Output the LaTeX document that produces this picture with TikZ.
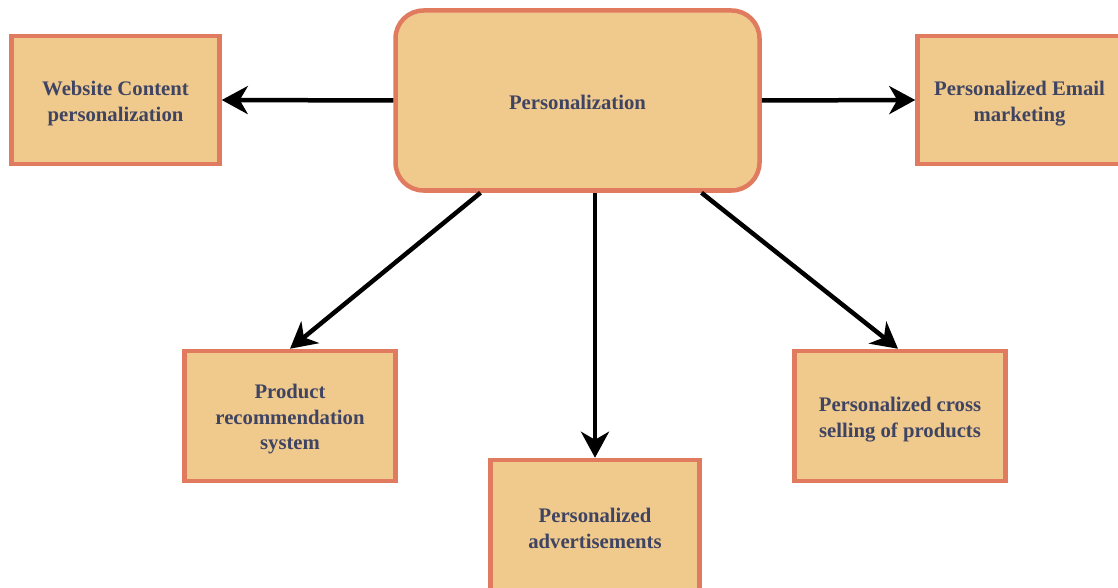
\documentclass[tikz,border=0pt]{standalone}
\usepackage{fontspec}
\setmainfont{Liberation Serif}
\usetikzlibrary{arrows.meta}
\definecolor{boxfill}{HTML}{F0CA8C}
\definecolor{boxline}{HTML}{E07B5F}
\definecolor{txt}{HTML}{3F4462}
\tikzset{
  box/.style={draw=boxline, fill=boxfill, line width=4.5pt, minimum width=208pt, minimum height=128pt, inner sep=0pt},
  mainbox/.style={box, rounded corners=28pt, minimum width=364pt, minimum height=180pt},
  lbl/.style={align=center, text=txt, inner sep=0pt,
    font=\fontsize{20.7pt}{25.5pt}\selectfont\bfseries},
  arr/.style={line width=4.5pt, draw=black, -{Stealth[length=26pt, width=28pt, inset=8pt]}}
}
\begin{document}
\begin{tikzpicture}[x=1pt,y=-1pt]
\useasboundingbox (0,0) rectangle (1118,588);
\begin{scope}
\clip (0,0) rectangle (1118,588);
\node[mainbox] (P) at (577.5,100.5) {};
\node[box] (web) at (115.5,100) {};
\node[box] (mail) at (1021.5,100) {};
\node[box, minimum width=211pt, minimum height=130pt] (prod) at (290,416) {};
\node[box, minimum width=209pt, minimum height=130pt] (ads) at (595,525) {};
\node[box, minimum width=211pt, minimum height=130pt] (cross) at (900,416) {};
\node[lbl] (tP) at ([yshift=-2pt]P.center) {Personalization};
\node[lbl] (tweb) at ([yshift=-3.5pt]web.center) {Website Content\\personalization};
\node[lbl] (tmail) at ([yshift=-3.5pt,xshift=-2pt]mail.center) {Personalized Email\\marketing};
\node[lbl] (tprod) at ([yshift=-3.5pt]prod.center) {Product\\recommendation\\system};
\node[lbl] (tads) at ([yshift=-3.5pt]ads.center) {Personalized\\advertisements};
\node[lbl] (tcross) at ([yshift=-3.5pt]cross.center) {Personalized cross\\selling of products};
\draw[arr] (P.west) -- (web.east);
\draw[arr] (P.east) -- (mail.west);
\draw[arr] ([xshift=-97pt]P.south) -- ([xshift=0pt]prod.north);
\draw[arr] (P.south -| ads.north) -- (ads.north);
\draw[arr] ([xshift=124pt]P.south) -- ([xshift=-2pt]cross.north);
\end{scope}
\end{tikzpicture}
\end{document}
